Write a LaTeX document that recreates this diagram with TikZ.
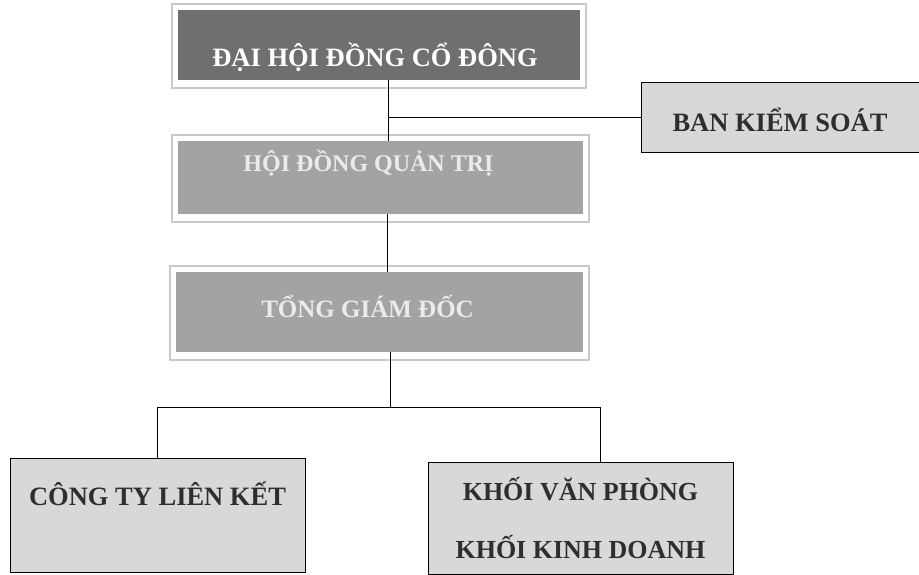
\documentclass[tikz,border=0pt]{standalone}
\usepackage{fontspec}
\setmainfont{Liberation Serif}
\usepackage{tikz}

\definecolor{darkbox}{HTML}{6F6F6F}
\definecolor{midbox}{HTML}{A3A3A3}
\definecolor{lightbox}{HTML}{D8D8D8}
\definecolor{framegray}{HTML}{C9C9C9}
\definecolor{inkgray}{HTML}{2E2E2E}

\newcommand{\lbl}[2]{\raisebox{#1}[0pt][0pt]{#2}}

\begin{document}
\begin{tikzpicture}[x=1pt,y=-1pt]
\tikzstyle{every node}+=[inner sep=0pt, font=\bfseries\fontsize{26.5}{30}\selectfont]
\tikzstyle{topbox}=[rectangle, fill=darkbox, text=white]
\tikzstyle{midbox}=[rectangle, fill=midbox, text=white!92!black]
\tikzstyle{subbox}=[rectangle, fill=lightbox, draw=black, line width=1pt, text=inkgray]
\tikzstyle{frame}=[draw=framegray, line width=1.5pt]
\tikzstyle{link}=[draw=black, line width=1pt]
\useasboundingbox (0,0) rectangle (919,574);
\node [topbox, minimum width=402, minimum height=70] (dhdcd) at (379,45) {\lbl{-21.75pt}{ĐẠI HỘI ĐỒNG CỔ ĐÔNG\kern8pt}};
\node [midbox, minimum width=405, minimum height=73, font=\bfseries\fontsize{24}{28}\selectfont] (hdqt) at (380.5,177.5) {\lbl{6pt}{HỘI ĐỒNG QUẢN TRỊ\kern24pt}};
\node [midbox, minimum width=407, minimum height=80, font=\bfseries\fontsize{25}{28}\selectfont] (tgd) at (379.5,312) {\lbl{-5.25pt}{TỔNG GIÁM ĐỐC\kern24pt}};
\node [subbox, minimum width=278, minimum height=70] (bks) at (780,117) {\lbl{-14.75pt}{BAN KIỂM SOÁT}};
\node [subbox, minimum width=295, minimum height=114] (ctlk) at (157.5,515) {\lbl{9.25pt}{CÔNG TY LIÊN KẾT}};
\node [subbox, minimum width=305, minimum height=112, align=center, font=\bfseries\fontsize{26}{58}\selectfont] (kvp) at (580.5,518) {KHỐI VĂN PHÒNG\\KHỐI KINH DOANH};
\draw [frame] ([shift={(-6,-6)}]dhdcd.north west) rectangle ([shift={(6,8)}]dhdcd.south east);
\draw [frame] ([shift={(-6,-6)}]hdqt.north west) rectangle ([shift={(6,8)}]hdqt.south east);
\draw [frame] ([shift={(-6,-6)}]tgd.north west) rectangle ([shift={(6,8)}]tgd.south east);
\draw [link] ([xshift=9pt]dhdcd.south) -- ([xshift=9pt]dhdcd.south |- hdqt.north);
\draw [link] ([xshift=9pt]dhdcd.south) |- (bks.west);
\draw [link] ([xshift=7pt]hdqt.south) -- ([xshift=7pt]hdqt.south |- tgd.north);
\draw [link] ([xshift=10.5pt]tgd.south) -- ++(0,55) coordinate (split);
\draw [link] (ctlk.north) |- (split) -| ([xshift=19.5pt]kvp.north);
\end{tikzpicture}
\end{document}
